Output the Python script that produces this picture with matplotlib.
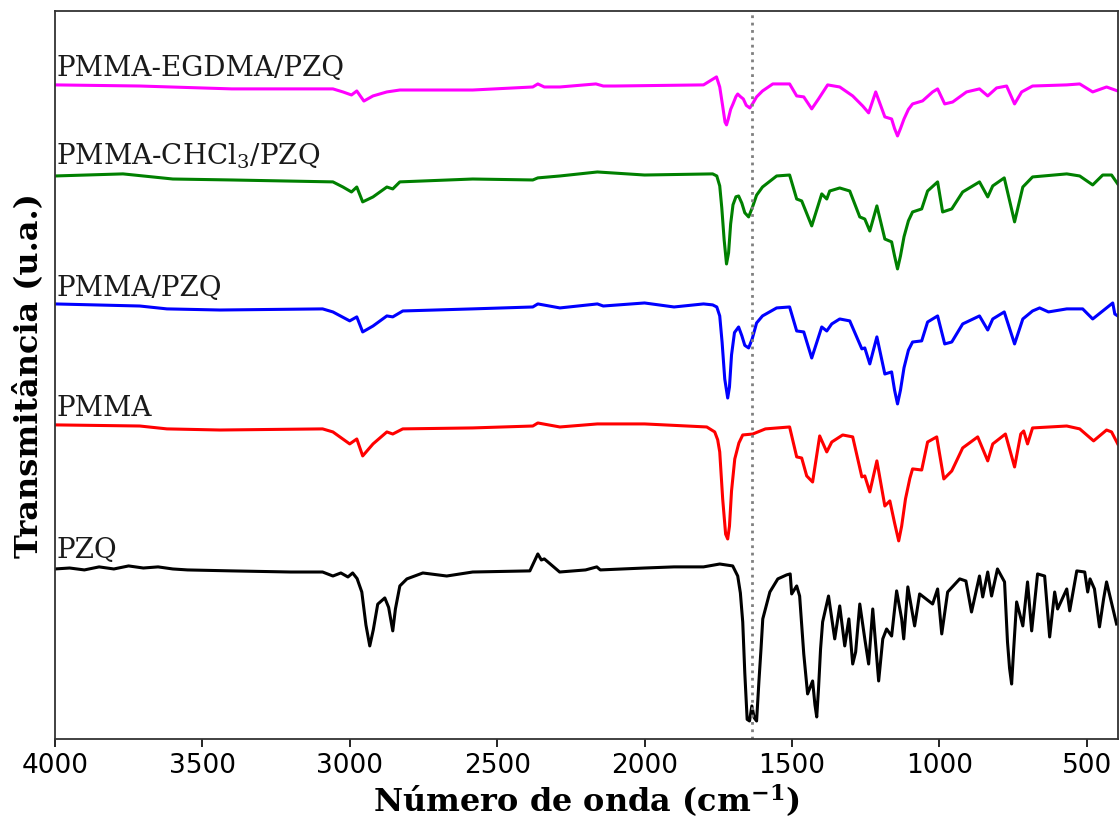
import matplotlib
matplotlib.use("Agg")
import matplotlib.pyplot as plt
import numpy as np

plt.rcParams['mathtext.fontset'] = 'dejavuserif'

# (numero de onda, transmitancia normalizada), 1 = linha de base
egdma = [(4000, 1.013), (3712, 1.006), (3400, 0.988), (3057, 0.988), (3023, 0.969), (2994, 0.950),
         (2976, 0.975), (2952, 0.912), (2921, 0.944), (2874, 0.969), (2830, 0.981), (2583, 0.981),
         (2379, 1.0), (2362, 1.019), (2340, 1.0), (2287, 1.0), (2165, 1.019), (2140, 1.006),
         (2100, 1.006), (1800, 1.013), (1756, 1.063), (1745, 1.0), (1735, 0.88), (1727, 0.78),
         (1722, 0.763), (1716, 0.80), (1708, 0.86), (1700, 0.894), (1690, 0.94), (1684, 0.956),
         (1675, 0.94), (1665, 0.925), (1655, 0.885), (1643, 0.869), (1632, 0.90), (1620, 0.938),
         (1600, 0.975), (1565, 1.019), (1508, 1.019), (1484, 0.944), (1460, 0.938), (1433, 0.863),
         (1410, 0.925), (1379, 1.013), (1338, 1.0), (1294, 0.944), (1260, 0.881), (1240, 0.838),
         (1216, 0.969), (1185, 0.813), (1162, 0.800), (1152, 0.74), (1142, 0.694), (1132, 0.74),
         (1120, 0.80), (1105, 0.86), (1091, 0.894), (1057, 0.913), (1023, 0.969), (1006, 0.988),
         (982, 0.894), (955, 0.906), (908, 0.969), (864, 0.988), (836, 0.944), (806, 0.994),
         (772, 1.006), (745, 0.894), (721, 0.969), (684, 1.006), (568, 1.013), (524, 1.019),
         (480, 0.969), (433, 1.0), (395, 0.975)]

chcl3 = [(4000, 1.0), (3769, 1.013), (3600, 0.981), (3400, 0.975), (3057, 0.963), (3023, 0.931),
         (2994, 0.900), (2976, 0.931), (2956, 0.838), (2921, 0.869), (2874, 0.931), (2854, 0.919),
         (2830, 0.963), (2583, 0.981), (2379, 0.975), (2362, 0.988), (2287, 1.0), (2160, 1.025),
         (2000, 1.006), (1769, 1.013), (1755, 1.0), (1745, 0.938), (1738, 0.80), (1730, 0.60),
         (1722, 0.450), (1715, 0.52), (1708, 0.70), (1700, 0.82), (1690, 0.87), (1681, 0.875),
         (1670, 0.83), (1660, 0.77), (1647, 0.744), (1635, 0.80), (1620, 0.88), (1600, 0.931),
         (1552, 1.0), (1508, 1.006), (1484, 0.856), (1467, 0.844), (1433, 0.688), (1399, 0.888),
         (1382, 0.856), (1372, 0.906), (1338, 0.925), (1304, 0.906), (1270, 0.744), (1253, 0.731),
         (1236, 0.656), (1212, 0.813), (1185, 0.606), (1162, 0.588), (1152, 0.50), (1142, 0.419),
         (1132, 0.50), (1120, 0.62), (1105, 0.72), (1091, 0.775), (1060, 0.794), (1040, 0.906),
         (1006, 0.963), (989, 0.775), (958, 0.794), (921, 0.900), (864, 0.963), (836, 0.869),
         (819, 0.938), (780, 0.988), (745, 0.713), (717, 0.931), (684, 0.994), (568, 1.013),
         (524, 1.0), (480, 0.944), (446, 1.006), (416, 1.006), (395, 0.950)]

pmma_pzq = [(4000, 1.019), (3712, 1.006), (3620, 0.988), (3440, 0.981), (3092, 0.988), (3057, 0.969),
            (3000, 0.913), (2976, 0.938), (2956, 0.844), (2921, 0.881), (2874, 0.944), (2854, 0.938),
            (2820, 0.975), (2583, 0.988), (2379, 1.0), (2362, 1.019), (2287, 0.994), (2160, 1.019),
            (2140, 1.006), (2000, 1.025), (1900, 1.0), (1800, 1.019), (1769, 1.013), (1755, 1.0),
            (1745, 0.944), (1737, 0.78), (1728, 0.55), (1718, 0.431), (1712, 0.50), (1705, 0.70),
            (1695, 0.84), (1681, 0.875), (1670, 0.82), (1660, 0.76), (1647, 0.744), (1635, 0.80),
            (1620, 0.90), (1600, 0.944), (1552, 0.994), (1508, 1.0), (1484, 0.850), (1460, 0.844),
            (1433, 0.681), (1399, 0.875), (1382, 0.850), (1365, 0.894), (1338, 0.925), (1304, 0.913),
            (1263, 0.738), (1253, 0.744), (1236, 0.644), (1212, 0.813), (1185, 0.581), (1162, 0.594),
            (1152, 0.48), (1142, 0.394), (1132, 0.48), (1120, 0.62), (1105, 0.73), (1091, 0.781),
            (1060, 0.788), (1040, 0.906), (1006, 0.944), (982, 0.769), (958, 0.781), (921, 0.894),
            (864, 0.944), (836, 0.856), (819, 0.925), (780, 0.969), (745, 0.769), (717, 0.925),
            (684, 0.975), (660, 0.994), (630, 0.969), (568, 0.988), (514, 0.988), (480, 0.925),
            (446, 0.975), (412, 1.025), (405, 0.956), (395, 0.944)]

pmma = [(4000, 1.013), (3712, 1.006), (3620, 0.988), (3440, 0.981), (3092, 0.988), (3057, 0.969),
        (3000, 0.894), (2976, 0.925), (2956, 0.819), (2921, 0.894), (2874, 0.969), (2854, 0.956),
        (2820, 0.988), (2583, 0.994), (2379, 1.006), (2362, 1.025), (2287, 1.0), (2160, 1.019),
        (2000, 1.019), (1789, 1.0), (1762, 0.969), (1752, 0.92), (1745, 0.844), (1735, 0.55),
        (1725, 0.33), (1718, 0.300), (1712, 0.38), (1705, 0.60), (1694, 0.80), (1680, 0.90),
        (1667, 0.950), (1633, 0.956), (1590, 0.988), (1508, 1.0), (1484, 0.813), (1467, 0.806),
        (1450, 0.694), (1430, 0.656), (1406, 0.944), (1382, 0.844), (1365, 0.906), (1328, 0.950),
        (1294, 0.938), (1263, 0.688), (1253, 0.694), (1236, 0.594), (1212, 0.788), (1185, 0.506),
        (1168, 0.538), (1152, 0.40), (1138, 0.288), (1128, 0.38), (1115, 0.55), (1100, 0.68),
        (1091, 0.738), (1060, 0.731), (1040, 0.906), (1009, 0.938), (985, 0.675), (958, 0.725),
        (921, 0.869), (870, 0.938), (836, 0.788), (819, 0.894), (776, 0.956), (745, 0.750),
        (724, 0.956), (714, 0.975), (701, 0.894), (684, 0.994), (568, 1.006), (524, 0.988),
        (477, 0.913), (433, 0.981), (416, 0.969), (395, 0.894)]

pzq = [(4000, 1.0), (3950, 1.006), (3900, 0.994), (3850, 1.013), (3800, 1.0), (3750, 1.019),
       (3700, 1.006), (3650, 1.013), (3600, 1.0), (3550, 0.994), (3400, 0.988), (3200, 0.981),
       (3092, 0.981), (3057, 0.956), (3030, 0.975), (3006, 0.950), (2990, 0.975), (2975, 0.94),
       (2959, 0.856), (2945, 0.65), (2932, 0.519), (2920, 0.62), (2905, 0.78), (2881, 0.819),
       (2868, 0.76), (2854, 0.613), (2845, 0.75), (2830, 0.894), (2806, 0.938), (2752, 0.975),
       (2671, 0.956), (2583, 0.981), (2389, 0.988), (2362, 1.094), (2350, 1.056), (2340, 1.063),
       (2288, 0.981), (2200, 0.994), (2162, 1.013), (2150, 0.994), (2000, 1.006), (1900, 1.013),
       (1800, 1.013), (1745, 1.031), (1701, 1.019), (1684, 0.956), (1675, 0.85), (1667, 0.669),
       (1660, 0.35), (1652, 0.06), (1644, 0.05), (1636, 0.144), (1628, 0.07), (1620, 0.05),
       (1612, 0.30), (1605, 0.50), (1599, 0.688), (1575, 0.856), (1548, 0.938), (1518, 0.963),
       (1506, 0.969), (1501, 0.844), (1484, 0.894), (1474, 0.831), (1460, 0.469), (1447, 0.219),
       (1430, 0.300), (1422, 0.15), (1416, 0.075), (1410, 0.25), (1403, 0.50), (1396, 0.669),
       (1376, 0.831), (1355, 0.563), (1338, 0.769), (1321, 0.519), (1307, 0.688), (1294, 0.406),
       (1284, 0.481), (1270, 0.781), (1253, 0.563), (1240, 0.406), (1226, 0.750), (1206, 0.300),
       (1192, 0.563), (1179, 0.625), (1162, 0.581), (1145, 0.863), (1128, 0.688), (1121, 0.563),
       (1107, 0.888), (1084, 0.644), (1067, 0.844), (1023, 0.781), (1006, 0.875), (992, 0.594),
       (972, 0.856), (931, 0.938), (910, 0.925), (891, 0.731), (864, 0.956), (853, 0.825),
       (836, 0.981), (823, 0.831), (803, 1.0), (779, 0.919), (769, 0.544), (762, 0.38),
       (755, 0.281), (748, 0.50), (738, 0.794), (717, 0.644), (701, 0.919), (687, 0.613),
       (667, 0.969), (643, 0.956), (636, 0.800), (626, 0.575), (609, 0.856), (599, 0.750),
       (568, 0.875), (558, 0.738), (534, 0.988), (507, 0.981), (497, 0.856), (489, 0.938),
       (474, 0.875), (457, 0.638), (443, 0.813), (433, 0.919), (399, 0.656)]

nomes = ['PZQ', 'PMMA', 'PMMA/PZQ', 'PMMA-CHCl$_3$/PZQ', 'PMMA-EGDMA/PZQ']
cores = ['black', 'red', 'blue', 'green', 'magenta']
deslocamento = [0.10, 1.52, 2.72, 4.03, 4.92]
escala = 1.6
espectros = [pzq, pmma, pmma_pzq, chcl3, egdma]

fig = plt.figure(figsize=(11.2, 8.2), dpi=100)
ax = fig.add_axes([0.049, 0.0976, 0.949, 0.8878])

for esp, nome, cor, d in zip(espectros, nomes, cores, deslocamento):
    w, t = zip(*esp)
    y = np.array(t) * escala + d
    ax.plot(w, y, color=cor, lw=2.2, solid_joinstyle='round')
    ax.text(3995, d + escala + 0.06, nome, family='DejaVu Serif', fontsize=20,
            color='#1a1a1a', ha='left', va='bottom')

# linha pontilhada em ~1637 cm-1
ax.axvline(1637, color='gray', ls=':', lw=2)

ax.set_xlim(4000, 395)
ax.set_ylim(0, 7.28)
ax.set_yticks([])
ax.set_xticks([4000, 3500, 3000, 2500, 2000, 1500, 1000, 500])
ax.tick_params(axis='x', labelsize=19, length=6, width=1.2)
for s in ax.spines.values():
    s.set_linewidth(1.3)
    s.set_color('#333333')

ax.set_xlabel(r'Número de onda (cm$^{\mathbf{-1}}$)', family='DejaVu Serif',
              fontweight='bold', fontsize=23, labelpad=2)
ax.set_ylabel('Transmitância (u.a.)', family='DejaVu Serif',
              fontweight='bold', fontsize=23, labelpad=8)

fig.savefig('out.png', dpi=100)
